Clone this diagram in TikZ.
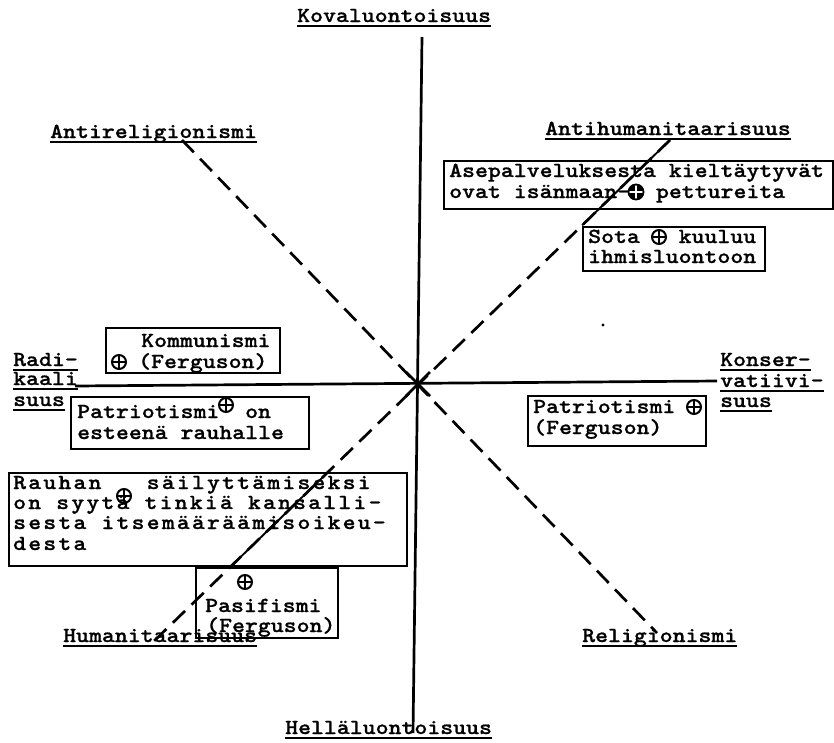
\documentclass[tikz,border=0pt]{standalone}
\usepackage{fontspec}
\newfontfamily\tw{lmmonolt10-bold.otf}[FakeStretch=1.145,FakeBold=0.8]
\newfontfamily\twb{lmmonolt10-bold.otf}[FakeStretch=1.145,FakeBold=0.8,LetterSpace=10]
\usetikzlibrary{calc}
\newcommand\ul[1]{\setbox0\hbox{#1}\rlap{\rule[-5pt]{\wd0}{1.8pt}}\box0}
\tikzset{
  lbl/.style={anchor=base west, inner sep=0pt, font=\tw\fontsize{21.5}{20.7}\selectfont},
  lblw/.style={anchor=base west, inner sep=0pt, font=\twb\fontsize{21.5}{20.7}\selectfont},
  box/.style={draw, line width=1.9pt, anchor=north west, inner sep=0pt},
  axis/.style={line width=2.7pt},
  diag/.style={line width=2.7pt, dash pattern=on 17pt off 9pt},
  thin/.style={line width=1.9pt},
  opl/.style={circle, draw, line width=2pt, minimum size=14pt, inner sep=0pt,
    path picture={\draw[line width=1.7pt] (path picture bounding box.north) -- (path picture bounding box.south)
      (path picture bounding box.west) -- (path picture bounding box.east);}},
  oplf/.style={circle, draw, fill=black, line width=1.8pt, minimum size=15pt, inner sep=0pt,
    path picture={\draw[white, line width=1.1pt] (path picture bounding box.north) -- (path picture bounding box.south)
      (path picture bounding box.west) -- (path picture bounding box.east);}}
}
\begin{document}
\begin{tikzpicture}[x=1pt,y=-1pt]
\useasboundingbox (0,0) rectangle (834,742);
% axes
\coordinate (vt) at (422,37);
\coordinate (vb) at (413,733);
\coordinate (hl) at (75,386);
\coordinate (hr) at (717,381);
\coordinate (c) at (418,384);
\coordinate (d1a) at (182,140);
\coordinate (d1b) at (657,633);
\coordinate (d2a) at (670,140);
\coordinate (d2b) at (153,642);
\draw[axis] (vt) -- (vb);
\draw[axis] (hl) -- (hr);
\draw[diag] (d1a) -- (d1b);
\draw[diag] (d2a) -- (d2b);
\draw[thin] (d2a) -- ($(d2a)!0.17!(d2b)$);
\draw[thin] ($(d2a)!0.661!(d2b)$) -- ($(d2a)!0.847!(d2b)$);
\draw[axis] ($(c)+(-12,-12)$) -- ($(c)+(12,12)$) ($(c)+(-12,12)$) -- ($(c)+(12,-12)$);
\fill (603,325) circle (1.6);
% labels
\node[lbl] (kova) at (297,22) {\ul{Kovaluontoisuus}};
\node[lbl] (hella) at (285,734) {\ul{Helläluontoisuus}};
\node[lbl] (antirel) at (50,138) {\ul{Antireligionismi}};
\node[lbl] (antihum) at (545,135) {\ul{Antihumanitaarisuus}};
\node[lbl] (relig) at (582,642) {\ul{Religionismi}};
\node[lbl] (human) at (63,642) {\ul{Humanitaarisuus}};
\node[lbl] (radi1) at (13,366) {\ul{Radi-}};
\node[lbl] (radi2) at (13,385) {\ul{kaali}};
\node[lbl] (radi3) at (13,406) {\ul{suus}};
\node[lbl] (kons1) at (720,366) {\ul{Konser-}};
\node[lbl] (kons2) at (720,387) {\ul{vatiivi-}};
\node[lbl] (kons3) at (720,407) {\ul{suus}};
% box A
\node[box, minimum width=389pt, minimum height=48pt] (boxA) at (443,160) {};
\node[lbl] (a1) at (449,177) {Asepalveluksesta kieltäytyvät};
\node[lbl] (a2) at (449,198) {ovat isänmaan-~~pettureita};
\node[oplf] (pA) at (636,192) {};
% box B
\node[box, minimum width=182pt, minimum height=44pt] (boxB) at (582,226) {};
\node[lbl] (b1) at (588,243) {Sota~~~kuuluu};
\node[lbl] (b2) at (588,263) {ihmisluontoon};
\node[opl] (pB) at (659,237) {};
% Kommunismi
\node[box, minimum width=174pt, minimum height=45pt] (boxK) at (105,327) {};
\node[lbl] (k1) at (141,347) {Kommunismi};
\node[lbl] (k2) at (138,368) {(Ferguson)};
\node[opl] (pK) at (119,362) {};
% Patriotismi left
\node[box, minimum width=238pt, minimum height=52pt] (boxPL) at (70,396) {};
\node[lbl] (pl1) at (77,418) {Patriotismi~~on};
\node[lbl] (pl2) at (77,439) {esteenä rauhalle};
\node[opl] (pPL) at (226,405) {};
% Patriotismi right
\node[box, minimum width=178pt, minimum height=50pt] (boxPR) at (527,395) {};
\node[lbl] (pr1) at (533,413) {Patriotismi};
\node[lbl] (pr2) at (533,434) {(Ferguson)};
\node[opl] (pPR) at (694,407) {};
% Rauhan
\node[box, minimum width=398pt, minimum height=93pt] (boxR) at (8,472) {};
\node[lblw] (r1) at (13,489) {Rauhan~~~säilyttämiseksi};
\node[lblw] (r2) at (13,509) {on syytä tinkiä kansalli-};
\node[lblw] (r3) at (13,529) {sesta itsemääräämisoikeu-};
\node[lblw] (r4) at (13,550) {desta};
\node[opl] (pR) at (124,496) {};
% Pasifismi
\node[box, minimum width=142pt, minimum height=70pt] (boxP) at (195,567) {};
\node[opl] (pP) at (245,582) {};
\node[lbl] (p1) at (205,612) {Pasifismi};
\node[lbl] (p2) at (206,632) {(Ferguson)};
\end{tikzpicture}
\end{document}
